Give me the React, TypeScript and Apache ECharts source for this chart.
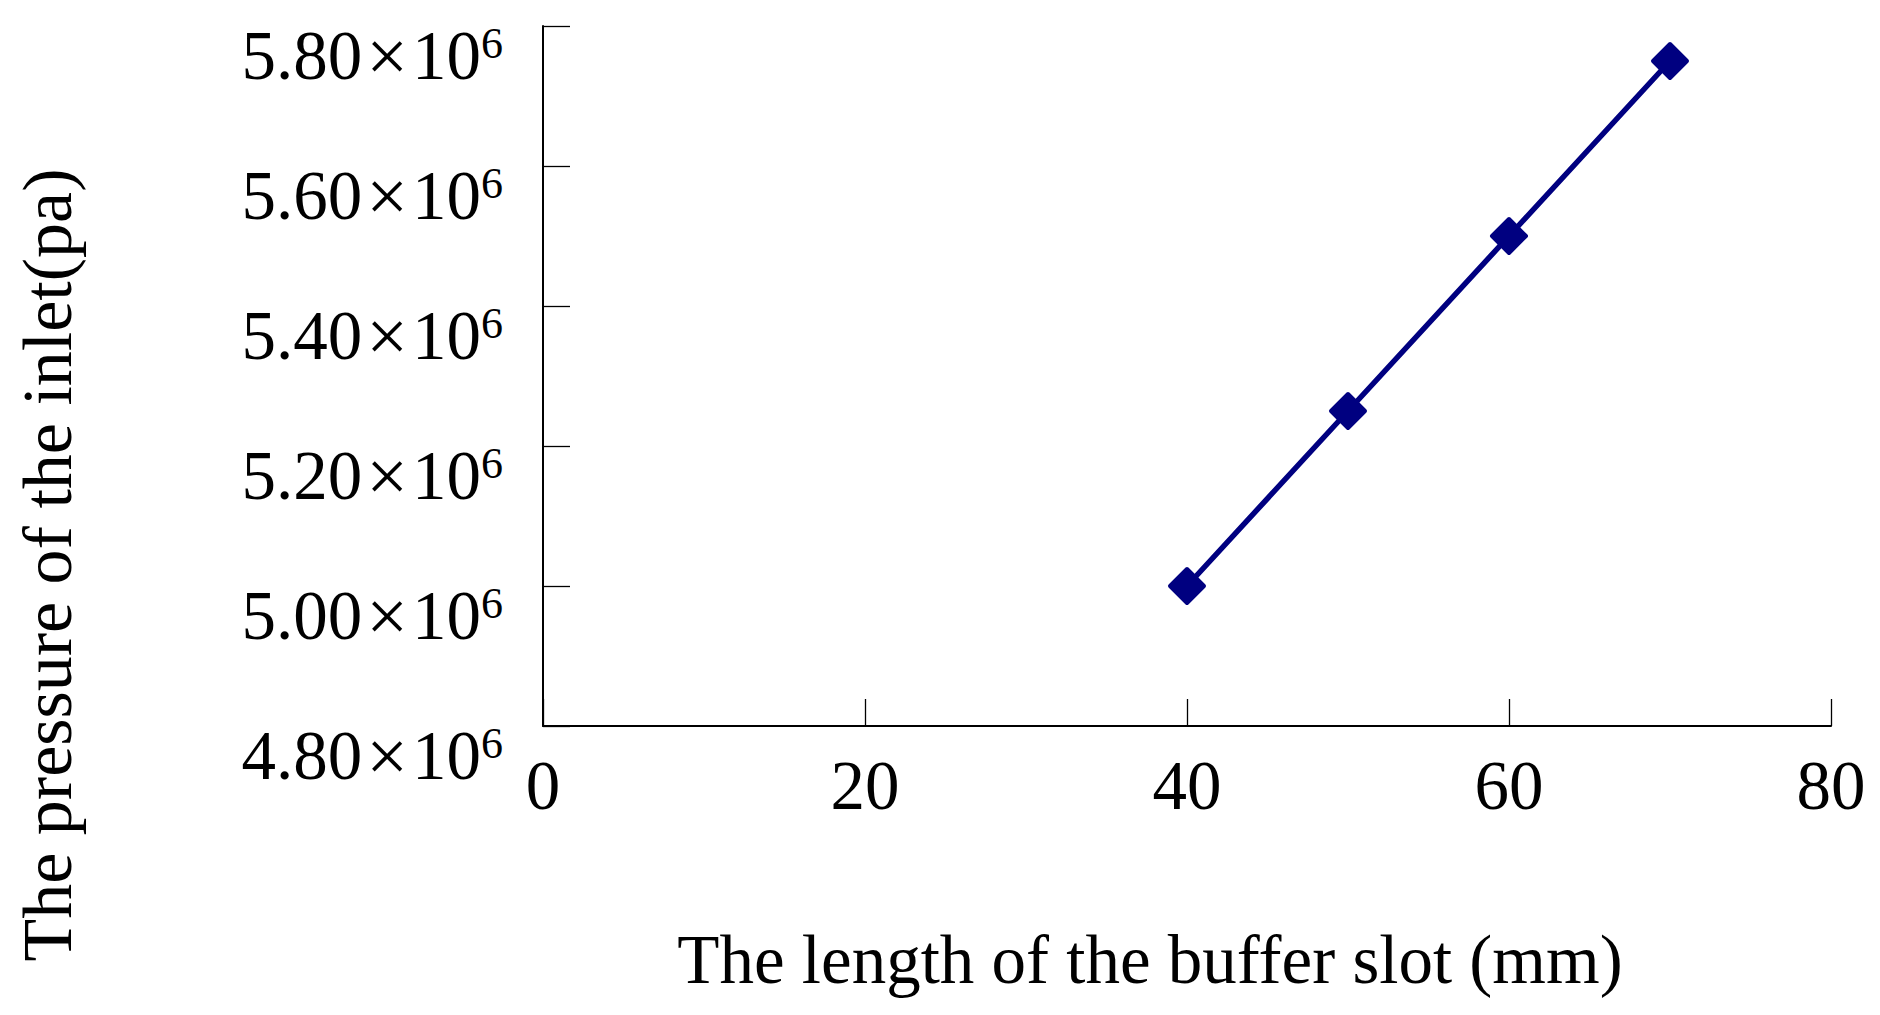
import React, { useEffect, useRef } from 'react';
import * as echarts from 'echarts';

// Data
const slotLengths = [40, 50, 60, 70];
const inletPressures = [5.0e6, 5.25e6, 5.5e6, 5.75e6];

// Axis settings / labels
const xMin = 0;
const xMax = 80;
const xInterval = 20;
const yMin = 4.8e6;
const yMax = 5.8e6;
const yInterval = 0.2e6;
const yExponent = '6';

const xTitle = 'The length of the buffer slot (mm)';
const yTitle = 'The pressure of the inlet(pa)';

const FONT = "'Liberation Serif', 'Times New Roman', Times, serif";
const NAVY = '#000080';

export default function App() {
  const ref = useRef<HTMLDivElement>(null);

  useEffect(() => {
    if (!ref.current) return;
    const chart = echarts.init(ref.current, null, { renderer: 'svg' });
    const data = slotLengths.map((x, i) => [x, inletPressures[i]]);

    chart.setOption({
      animation: false,
      backgroundColor: '#ffffff',
      grid: { left: 543, right: 49, top: 26, bottom: 289, containLabel: false },
      xAxis: {
        type: 'value',
        min: xMin,
        max: xMax,
        interval: xInterval,
        axisLine: { show: true, lineStyle: { color: '#000', width: 2 } },
        axisTick: { show: true, inside: true, length: 27, lineStyle: { color: '#000', width: 1.3 } },
        splitLine: { show: false },
        axisLabel: {
          color: '#000',
          fontFamily: FONT,
          fontSize: 69,
          margin: 25,
        },
      },
      yAxis: {
        type: 'value',
        min: yMin,
        max: yMax,
        interval: yInterval,
        axisLine: { show: true, lineStyle: { color: '#000', width: 2 } },
        axisTick: { show: true, inside: true, length: 27, lineStyle: { color: '#000', width: 1.3 } },
        splitLine: { show: false },
        axisLabel: {
          margin: 40,
          padding: [60, 0, 0, 0],
          formatter: (v: number) =>
            `{m|${(v / 1e6).toFixed(2)}}{x|×}{m|10}{s|${yExponent}}`,
          rich: {
            m: {
              fontFamily: FONT,
              fontSize: 69,
              lineHeight: 69,
              color: '#000',
              verticalAlign: 'middle',
            },
            x: {
              fontFamily: FONT,
              fontSize: 74,
              lineHeight: 69,
              color: '#000',
              verticalAlign: 'middle',
              padding: [0, 4, 0, 4],
            },
            s: {
              fontFamily: FONT,
              fontSize: 44,
              lineHeight: 44,
              color: '#000',
              verticalAlign: 'top',
            },
          },
        },
      },
      graphic: [
        {
          type: 'text',
          x: 1150,
          y: 960,
          style: {
            text: xTitle,
            fontFamily: FONT,
            fontSize: 69,
            fill: '#000',
            align: 'center',
            verticalAlign: 'middle',
          },
        },
        {
          type: 'text',
          x: 47,
          y: 565,
          rotation: Math.PI / 2,
          style: {
            text: yTitle,
            fontFamily: FONT,
            fontSize: 70,
            fill: '#000',
            align: 'center',
            verticalAlign: 'middle',
          },
        },
      ],
      series: [
        {
          type: 'line',
          data,
          smooth: false,
          symbol: 'diamond',
          symbolSize: 34,
          lineStyle: { color: NAVY, width: 5.5 },
          itemStyle: { color: NAVY, borderColor: NAVY, borderWidth: 4, borderJoin: 'round' },
          emphasis: { disabled: true },
        },
      ],
    });

    return () => chart.dispose();
  }, []);

  return (
    <div
      ref={ref}
      style={{ position: 'fixed', left: 0, top: 0, width: 1880, height: 1015, background: '#fff' }}
    />
  );
}
